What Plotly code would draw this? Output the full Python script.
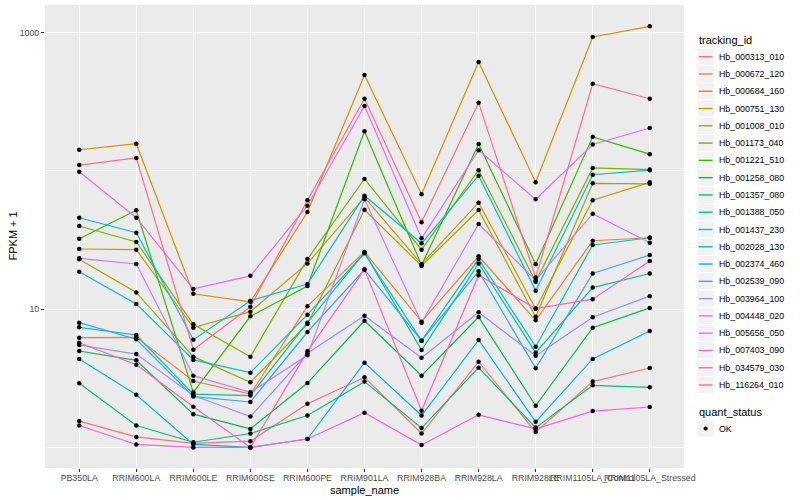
import plotly.graph_objects as go

samples = ["PB350LA", "RRIM600LA", "RRIM600LE", "RRIM600SE", "RRIM600PE", "RRIM901LA",
           "RRIM928BA", "RRIM928LA", "RRIM928LE", "RRIM1105LA_Control", "RRIM1105LA_Stressed"]

tracking_ids = ["Hb_000313_010", "Hb_000672_120", "Hb_000684_160", "Hb_000751_130", "Hb_001008_010",
                "Hb_001173_040", "Hb_001221_510", "Hb_001258_080", "Hb_001357_080", "Hb_001388_050",
                "Hb_001437_230", "Hb_002028_130", "Hb_002374_460", "Hb_002539_090", "Hb_003964_100",
                "Hb_004448_020", "Hb_005656_050", "Hb_007403_090", "Hb_034579_030", "Hb_116264_010"]

colors = ["#F8766D", "#EA8331", "#D89000", "#C09B00", "#A3A500", "#7CAE00", "#39B600", "#00BB4E",
          "#00BF7D", "#00C1A3", "#00BFC4", "#00BAE0", "#00B0F6", "#35A2FF", "#9590FF", "#C77CFF",
          "#E76BF3", "#FA62DB", "#FF62BC", "#FF6C91"]

# FPKM + 1 per sample (order of `samples`)
hb_000313_010 = [1.55, 1.19, 1.07, 1.11, 2.07, 3.21, 1.26, 4.17, 1.29, 2.99, 3.75]
hb_000672_120 = [6.21, 6.25, 3.02, 2.43, 10.5, 25.9, 8.11, 24.1, 8.3, 31.2, 32.8]
hb_000684_160 = [142, 157, 12.9, 11.3, 50.4, 493, 67.6, 612, 82.6, 928, 1109]
hb_000751_130 = [27.2, 26.9, 7.34, 9.58, 21.4, 64.3, 21.2, 58.8, 10.07, 61.2, 82.5]
hb_001008_010 = [22.9, 13.2, 4.53, 2.96, 7.80, 52.3, 20.5, 52.1, 8.81, 81.2, 80.5]
hb_001173_040 = [39.9, 30.6, 7.76, 4.53, 23.0, 87.3, 26.9, 101, 15.8, 105, 102]
hb_001221_510 = [32.3, 51.8, 2.50, 8.87, 14.7, 193, 20.8, 156, 21.1, 176, 132]
hb_001258_080 = [4.98, 4.26, 1.74, 1.36, 2.92, 8.24, 3.30, 8.77, 2.00, 7.34, 10.2]
hb_001357_080 = [2.91, 1.44, 1.09, 1.26, 1.70, 2.99, 1.38, 3.77, 1.39, 2.81, 2.72]
hb_001388_050 = [7.38, 6.50, 2.43, 2.37, 7.98, 25.6, 5.06, 21.4, 4.84, 14.3, 18.1]
hb_001437_230 = [18.6, 10.9, 4.29, 3.47, 9.11, 25.3, 5.91, 23.1, 5.35, 29.1, 32.8]
hb_002028_130 = [45.8, 35.7, 6.01, 11.5, 15.2, 66.1, 29.9, 92.2, 13.6, 93.7, 101]
hb_002374_460 = [4.36, 2.40, 1.05, 1.00, 1.15, 4.10, 1.70, 5.98, 1.53, 4.36, 6.94]
hb_002539_090 = [7.98, 6.05, 2.33, 2.13, 6.83, 19.3, 5.91, 18.8, 3.73, 18.1, 24.6]
hb_003964_100 = [5.50, 4.73, 2.37, 1.67, 4.79, 8.96, 4.45, 9.48, 4.60, 8.73, 12.4]
hb_004448_020 = [23.3, 21.2, 3.30, 2.50, 4.63, 62.2, 7.98, 41.2, 16.2, 49.0, 30.2]
hb_005656_050 = [98.5, 45.8, 14.0, 17.4, 55.9, 294, 32.5, 141, 62.2, 155, 204]
hb_007403_090 = [1.44, 1.05, 1.00, 1.00, 1.15, 1.78, 1.04, 1.72, 1.36, 1.83, 1.96]
hb_034579_030 = [5.71, 3.96, 1.97, 1.00, 4.95, 19.3, 1.84, 17.6, 10.1, 11.8, 22.3]
hb_116264_010 = [110, 124, 5.08, 10.4, 61.2, 332, 42.4, 311, 16.9, 426, 332]

series = [hb_000313_010, hb_000672_120, hb_000684_160, hb_000751_130, hb_001008_010,
          hb_001173_040, hb_001221_510, hb_001258_080, hb_001357_080, hb_001388_050,
          hb_001437_230, hb_002028_130, hb_002374_460, hb_002539_090, hb_003964_100,
          hb_004448_020, hb_005656_050, hb_007403_090, hb_034579_030, hb_116264_010]

W, H = 800, 500
L, R, T, B = 45, 116, 5, 32
PW, PH = W - L - R, H - T - B


def px(x):
    return (x - L) / PW


def py(y):
    return (H - B - y) / PH


FONT = "Liberation Sans, Arial, Helvetica, sans-serif"

fig = go.Figure()
for name, col, vals in zip(tracking_ids, colors, series):
    fig.add_trace(go.Scatter(x=samples, y=vals, mode="lines", name=name,
                             line=dict(color=col, width=1.2), showlegend=False))

all_x = [s for vals in series for s in samples]
all_y = [v for vals in series for v in vals]
fig.add_trace(go.Scatter(x=all_x, y=all_y, mode="markers", name="OK",
                         marker=dict(color="black", size=4.5), showlegend=False))

shapes = []
annotations = []

# axis titles
annotations.append(dict(text="FPKM + 1", x=px(12), y=0.5, xref="paper", yref="paper",
                        xanchor="center", yanchor="middle",
                        textangle=-90, showarrow=False, font=dict(size=11, color="black", family=FONT)))
annotations.append(dict(text="sample_name", x=0.5, y=py(489.5), xref="paper", yref="paper",
                        xanchor="center", yanchor="middle",
                        showarrow=False, font=dict(size=11, color="black", family=FONT)))

# legend: tracking_id
LX0, KEY, STEP, Y0 = 697, 17.28, 17.28, 56.7
annotations.append(dict(text="tracking_id", x=px(LX0), y=py(40.5), xref="paper", yref="paper",
                        xanchor="left", yanchor="middle", showarrow=False,
                        font=dict(size=11, color="black", family=FONT)))
for i, (name, col) in enumerate(zip(tracking_ids, colors)):
    cy = Y0 + STEP * i
    shapes.append(dict(type="rect", xref="paper", yref="paper",
                       x0=px(LX0), x1=px(LX0 + KEY), y0=py(cy - KEY / 2), y1=py(cy + KEY / 2),
                       fillcolor="#F2F2F2", line=dict(color="white", width=1), layer="above"))
    shapes.append(dict(type="line", xref="paper", yref="paper",
                       x0=px(LX0 + 1.7), x1=px(LX0 + KEY - 1.7), y0=py(cy), y1=py(cy),
                       line=dict(color=col, width=1.4), layer="above"))
    annotations.append(dict(text=name, x=px(LX0 + KEY + 3), y=py(cy), xref="paper", yref="paper",
                            xanchor="left", yanchor="middle", showarrow=False,
                            font=dict(size=8.8, color="black", family=FONT)))

# legend: quant_status
annotations.append(dict(text="quant_status", x=px(LX0), y=py(411.5), xref="paper", yref="paper",
                        xanchor="left", yanchor="middle", showarrow=False,
                        font=dict(size=11, color="black", family=FONT)))
cy = 428.5
shapes.append(dict(type="rect", xref="paper", yref="paper",
                   x0=px(LX0), x1=px(LX0 + KEY), y0=py(cy - KEY / 2), y1=py(cy + KEY / 2),
                   fillcolor="#F2F2F2", line=dict(color="white", width=1), layer="above"))
shapes.append(dict(type="circle", xref="paper", yref="paper",
                   x0=px(LX0 + KEY / 2 - 2.1), x1=px(LX0 + KEY / 2 + 2.1),
                   y0=py(cy - 2.1), y1=py(cy + 2.1),
                   fillcolor="black", line=dict(color="black", width=0), layer="above"))
annotations.append(dict(text="OK", x=px(LX0 + KEY + 3), y=py(cy), xref="paper", yref="paper",
                        xanchor="left", yanchor="middle", showarrow=False,
                        font=dict(size=8.8, color="black", family=FONT)))

fig.update_layout(
    width=W, height=H,
    margin=dict(l=L, r=R, t=T, b=B, pad=0),
    plot_bgcolor="#EBEBEB", paper_bgcolor="white",
    font=dict(family=FONT),
    showlegend=False,
    shapes=shapes, annotations=annotations,
    xaxis=dict(type="category", range=[-0.6, 10.6], showgrid=True, gridcolor="white", gridwidth=1.1,
               zeroline=False, showline=False, ticks="outside", ticklen=3, tickwidth=1,
               tickcolor="#333333", tickangle=0, automargin=False, ticklabelstandoff=-2,
               tickfont=dict(size=8.8, color="#4D4D4D", family=FONT)),
    yaxis=dict(type="log", range=[-0.149, 3.199], tickvals=[10, 1000], ticktext=["10", "1000"],
               showgrid=True, gridcolor="white", gridwidth=1.1, zeroline=False, showline=False,
               ticks="outside", ticklen=3, tickwidth=1, tickcolor="#333333", automargin=False,
               tickfont=dict(size=8.8, color="#4D4D4D", family=FONT),
               minor=dict(tickvals=[1, 100], showgrid=True, gridcolor="white", gridwidth=0.55,
                          ticks="")),
)

fig.write_html("out.html", config={"displayModeBar": False},
               post_script="document.body.style.margin='0';document.body.style.overflow='hidden';")
